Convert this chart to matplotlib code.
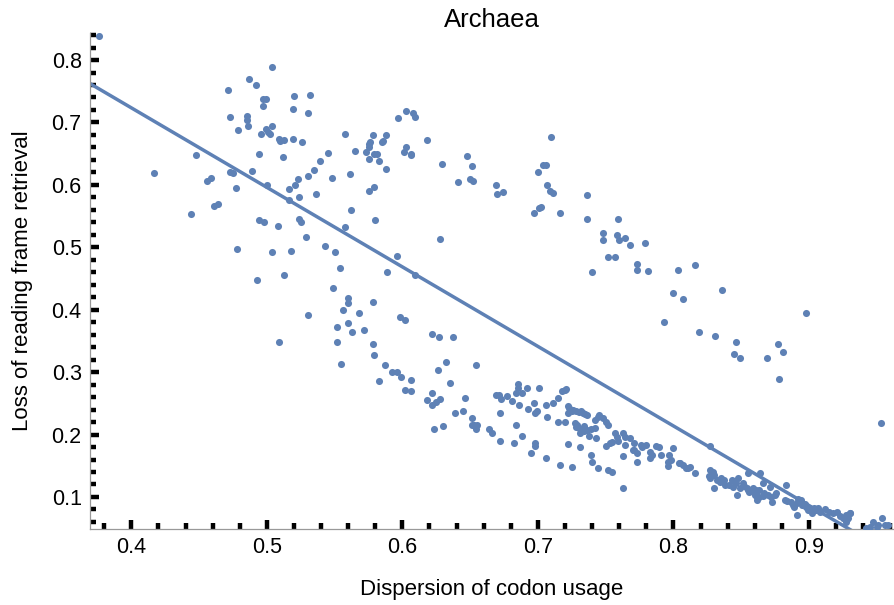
import numpy as np
import matplotlib
matplotlib.use('Agg')
import matplotlib.pyplot as plt
from matplotlib.ticker import MultipleLocator

# Dispersion of codon usage vs loss of reading frame retrieval (Archaea)
# values

# upper-left cloud
upper_left = [
    (0.376, 0.839), (0.417, 0.619), (0.444, 0.554), (0.448, 0.648), (0.456, 0.607),
    (0.459, 0.611), (0.461, 0.566), (0.464, 0.569), (0.471, 0.752), (0.473, 0.708),
    (0.473, 0.620), (0.475, 0.619), (0.477, 0.595), (0.478, 0.498), (0.479, 0.688),
    (0.485, 0.710), (0.485, 0.704), (0.486, 0.694), (0.487, 0.769), (0.489, 0.622),
    (0.492, 0.760), (0.493, 0.448), (0.494, 0.544), (0.494, 0.650), (0.496, 0.681),
    (0.497, 0.737), (0.497, 0.726), (0.498, 0.541), (0.499, 0.737), (0.499, 0.690),
    (0.500, 0.600), (0.501, 0.685), (0.502, 0.681), (0.504, 0.694), (0.504, 0.789),
    (0.504, 0.492), (0.508, 0.534), (0.509, 0.673), (0.510, 0.670), (0.512, 0.645),
    (0.513, 0.672), (0.513, 0.455), (0.516, 0.576), (0.516, 0.593), (0.518, 0.494),
    (0.519, 0.673), (0.519, 0.721), (0.520, 0.742), (0.521, 0.599), (0.523, 0.610),
    (0.524, 0.545), (0.524, 0.580), (0.525, 0.540), (0.526, 0.669), (0.529, 0.516),
    (0.530, 0.614), (0.530, 0.715), (0.532, 0.744), (0.536, 0.586), (0.539, 0.639),
    (0.535, 0.624), (0.543, 0.502), (0.545, 0.651), (0.548, 0.611), (0.549, 0.434),
    (0.550, 0.493), (0.554, 0.467), (0.558, 0.532), (0.558, 0.682), (0.560, 0.419),
    (0.561, 0.617), (0.562, 0.559), (0.565, 0.654), (0.573, 0.653), (0.575, 0.642),
    (0.575, 0.661), (0.575, 0.665), (0.576, 0.668), (0.575, 0.590), (0.578, 0.680),
    (0.579, 0.597), (0.579, 0.649), (0.580, 0.543), (0.581, 0.649), (0.583, 0.638),
    (0.585, 0.668), (0.586, 0.671), (0.588, 0.680), (0.588, 0.626), (0.589, 0.460),
    (0.596, 0.486), (0.597, 0.707), (0.601, 0.653), (0.603, 0.661), (0.603, 0.719),
    (0.606, 0.650), (0.606, 0.648), (0.608, 0.715), (0.609, 0.709), (0.609, 0.455),
    (0.618, 0.672), (0.628, 0.514), (0.629, 0.634),
]

# upper-right arc
upper_right = [
    (0.648, 0.646), (0.651, 0.630), (0.641, 0.605), (0.650, 0.610), (0.652, 0.607),
    (0.669, 0.600), (0.670, 0.585), (0.674, 0.588), (0.710, 0.676), (0.704, 0.632),
    (0.706, 0.632), (0.700, 0.620), (0.707, 0.600), (0.709, 0.590), (0.711, 0.587),
    (0.697, 0.555), (0.701, 0.563), (0.702, 0.565), (0.716, 0.555), (0.736, 0.583),
    (0.736, 0.546), (0.759, 0.546), (0.748, 0.523), (0.748, 0.512), (0.758, 0.520),
    (0.760, 0.512), (0.764, 0.515), (0.768, 0.504), (0.779, 0.507), (0.752, 0.485),
    (0.757, 0.484), (0.740, 0.461), (0.773, 0.474), (0.773, 0.464), (0.781, 0.462),
    (0.803, 0.464), (0.816, 0.471), (0.800, 0.427), (0.807, 0.417), (0.836, 0.432),
    (0.793, 0.380), (0.819, 0.365), (0.831, 0.358), (0.846, 0.348), (0.845, 0.329),
    (0.849, 0.322), (0.869, 0.322), (0.877, 0.345), (0.881, 0.333), (0.878, 0.289),
    (0.898, 0.395), (0.953, 0.219),
]

# lower-left group
lower_left = [
    (0.509, 0.349), (0.530, 0.392), (0.560, 0.411), (0.556, 0.399), (0.568, 0.394),
    (0.578, 0.412), (0.552, 0.373), (0.560, 0.378), (0.563, 0.365), (0.572, 0.368),
    (0.552, 0.349), (0.555, 0.313), (0.578, 0.345), (0.579, 0.327), (0.587, 0.312),
    (0.592, 0.301), (0.596, 0.301), (0.599, 0.293), (0.583, 0.286), (0.598, 0.388),
    (0.602, 0.384), (0.606, 0.288), (0.602, 0.272), (0.606, 0.270), (0.622, 0.361),
    (0.627, 0.357), (0.637, 0.357), (0.626, 0.304), (0.632, 0.317), (0.618, 0.255),
    (0.622, 0.266), (0.622, 0.248), (0.625, 0.252), (0.628, 0.257), (0.623, 0.209),
    (0.630, 0.213), (0.635, 0.282), (0.654, 0.311),
]

# dense lower band
lower_band = [
    (0.639, 0.234), (0.646, 0.258), (0.645, 0.238), (0.651, 0.227), (0.651, 0.216),
    (0.653, 0.216), (0.655, 0.216), (0.654, 0.209), (0.664, 0.209), (0.666, 0.202),
    (0.672, 0.189), (0.669, 0.264), (0.671, 0.264), (0.673, 0.257), (0.677, 0.262),
    (0.672, 0.235), (0.681, 0.253), (0.686, 0.248), (0.684, 0.216), (0.682, 0.187),
    (0.688, 0.198), (0.684, 0.267), (0.685, 0.274), (0.685, 0.281), (0.688, 0.266),
    (0.692, 0.275), (0.701, 0.275), (0.693, 0.241), (0.697, 0.250), (0.699, 0.238),
    (0.698, 0.235), (0.706, 0.247), (0.707, 0.228), (0.698, 0.187), (0.698, 0.182),
    (0.695, 0.170), (0.706, 0.162), (0.711, 0.250), (0.715, 0.258), (0.718, 0.270),
    (0.720, 0.272), (0.721, 0.273), (0.715, 0.220), (0.720, 0.220), (0.722, 0.246),
    (0.723, 0.242), (0.725, 0.238), (0.726, 0.239), (0.728, 0.238), (0.730, 0.236),
    (0.732, 0.237), (0.733, 0.235), (0.735, 0.233), (0.736, 0.231), (0.722, 0.234),
    (0.727, 0.219), (0.728, 0.212), (0.729, 0.215), (0.731, 0.209), (0.732, 0.208),
    (0.734, 0.214), (0.731, 0.202), (0.734, 0.205), (0.736, 0.208), (0.739, 0.209),
    (0.742, 0.211), (0.738, 0.197), (0.743, 0.194), (0.742, 0.223), (0.744, 0.228),
    (0.745, 0.231), (0.722, 0.185), (0.731, 0.180), (0.739, 0.167), (0.740, 0.156),
    (0.744, 0.146), (0.716, 0.151), (0.725, 0.148),
    (0.748, 0.226), (0.750, 0.220), (0.752, 0.215), (0.752, 0.143), (0.755, 0.140),
    (0.757, 0.202), (0.758, 0.196), (0.755, 0.188), (0.753, 0.186), (0.750, 0.181),
    (0.759, 0.189), (0.763, 0.202), (0.764, 0.196), (0.764, 0.184), (0.763, 0.166),
    (0.763, 0.114), (0.768, 0.194), (0.771, 0.187), (0.770, 0.176), (0.771, 0.175),
    (0.773, 0.170), (0.773, 0.156), (0.776, 0.183), (0.777, 0.180), (0.780, 0.183),
    (0.783, 0.172), (0.784, 0.167), (0.783, 0.162), (0.787, 0.181), (0.789, 0.180),
    (0.791, 0.168), (0.797, 0.167), (0.798, 0.160), (0.796, 0.156), (0.796, 0.150),
    (0.800, 0.179), (0.804, 0.154), (0.805, 0.155), (0.807, 0.151), (0.809, 0.147),
    (0.811, 0.146), (0.812, 0.148), (0.816, 0.138), (0.827, 0.182), (0.827, 0.143),
    (0.829, 0.140), (0.830, 0.135), (0.827, 0.130), (0.826, 0.133), (0.832, 0.127),
    (0.834, 0.124), (0.835, 0.130), (0.837, 0.127), (0.830, 0.114), (0.838, 0.119),
    (0.843, 0.127), (0.841, 0.119), (0.844, 0.116), (0.846, 0.122), (0.847, 0.103),
    (0.849, 0.115), (0.851, 0.123), (0.852, 0.117), (0.854, 0.114), (0.855, 0.111),
    (0.856, 0.108), (0.855, 0.139), (0.848, 0.130), (0.860, 0.106), (0.862, 0.100),
    (0.862, 0.095), (0.863, 0.111),
]

# tail at the high-dispersion end
lower_tail = [
    (0.864, 0.138), (0.859, 0.114), (0.861, 0.111), (0.860, 0.103), (0.863, 0.100),
    (0.866, 0.101), (0.867, 0.106), (0.870, 0.103), (0.866, 0.122), (0.871, 0.116),
    (0.872, 0.100), (0.873, 0.092), (0.875, 0.103), (0.876, 0.107), (0.883, 0.119),
    (0.882, 0.095), (0.884, 0.094), (0.887, 0.092), (0.888, 0.087), (0.889, 0.084),
    (0.891, 0.090), (0.892, 0.096), (0.894, 0.095), (0.895, 0.087), (0.897, 0.089),
    (0.898, 0.084), (0.891, 0.071), (0.899, 0.079), (0.900, 0.082), (0.903, 0.080),
    (0.904, 0.083), (0.905, 0.079), (0.907, 0.082), (0.908, 0.076), (0.902, 0.074),
    (0.912, 0.080), (0.915, 0.076), (0.918, 0.074), (0.921, 0.076), (0.923, 0.069),
    (0.925, 0.067), (0.926, 0.066), (0.927, 0.071), (0.929, 0.067), (0.930, 0.074),
    (0.930, 0.075), (0.928, 0.064), (0.927, 0.060), (0.947, 0.060), (0.951, 0.055),
    (0.954, 0.066), (0.950, 0.052), (0.956, 0.055), (0.945, 0.052), (0.942, 0.051),
    (0.958, 0.055),
]

# linear fit shown in the chart
fit_intercept = 1.233
fit_slope = -1.274

blue = '#5E81B5'

plt.rcParams['font.family'] = ['Liberation Sans', 'DejaVu Sans']

fig = plt.figure(figsize=(8.95, 6.05), dpi=100)
ax = fig.add_axes([90 / 895, 1 - 529 / 605, (893 - 90) / 895, (529 - 33) / 605])

pts = np.array(upper_left + upper_right + lower_left + lower_band + lower_tail)
ax.scatter(pts[:, 0], pts[:, 1], s=26, color=blue, linewidths=0, zorder=3)

xlim = (0.3695, 0.962)
xs = np.linspace(xlim[0], xlim[1], 50)
ax.plot(xs, fit_intercept + fit_slope * xs, color=blue, lw=2.5, zorder=2)

ax.set_xlim(*xlim)
ax.set_ylim(0.0487, 0.8433)

ax.xaxis.set_major_locator(MultipleLocator(0.1))
ax.xaxis.set_minor_locator(MultipleLocator(0.02))
ax.yaxis.set_major_locator(MultipleLocator(0.1))
ax.yaxis.set_minor_locator(MultipleLocator(0.02))

ax.tick_params(which='both', direction='in', color='black', top=False, right=False)
ax.tick_params(which='major', length=6.5, width=3.2, labelsize=15.5, pad=6)
ax.tick_params(which='minor', length=4, width=3.2)

for s in ['top', 'right']:
    ax.spines[s].set_visible(False)
for s in ['left', 'bottom']:
    ax.spines[s].set_color('#999999')
    ax.spines[s].set_linewidth(0.9)

ax.set_title('Archaea', fontsize=18.5, pad=4.5)
ax.set_xlabel('Dispersion of codon usage', fontsize=16, labelpad=15)
ax.set_ylabel('Loss of reading frame retrieval', fontsize=16, labelpad=13)

fig.savefig('out.png', dpi=100)
